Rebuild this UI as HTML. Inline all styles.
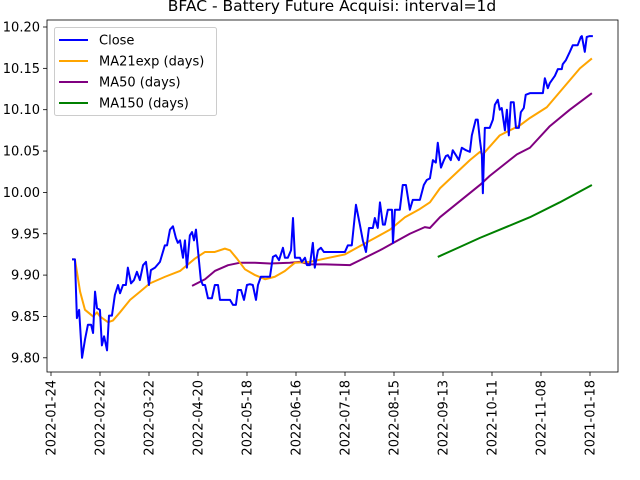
<!DOCTYPE html>
<html><head><meta charset="utf-8"><style>
body{margin:0;background:#fff;}
svg{display:block;font-family:"DejaVu Sans","Liberation Sans",sans-serif;}
</style></head><body>
<svg id="chart" width="640" height="480" viewBox="0 0 640 480"></svg>
<script>
// trading-day offsets (tick k sits at day 20k) and values
const tickLabels = ["2022-01-24","2022-02-22","2022-03-22","2022-04-20","2022-05-18","2022-06-16","2022-07-18","2022-08-15","2022-09-13","2022-10-11","2022-11-08","2021-01-18"];
const yTicks = [9.80,9.85,9.90,9.95,10.00,10.05,10.10,10.15,10.20];
const closeDays = [0,1.2,2.0,2.9,4.1,5.3,6.5,7.8,8.6,9.4,10.2,11.4,12.2,13.1,14.3,15.1,16.3,17.5,18.8,19.6,20.8,22.0,22.8,24.1,25.3,26.5,27.7,29.0,30.2,31.4,32.2,33.9,35.9,36.7,37.9,38.8,40.0,41.2,42.4,43.2,44.1,45.3,46.1,46.9,48.1,49.0,49.8,50.6,51.8,52.6,53.4,54.3,55.5,57.1,58.3,59.6,60.4,61.2,62.8,64.5,65.7,66.9,67.7,69.0,70.2,71.4,72.6,73.8,75.1,75.9,77.1,78.3,79.6,80.8,82.0,83.2,84.5,86.1,86.9,88.1,89.4,90.2,91.0,93.0,93.8,95.1,95.9,97.1,98.3,99.1,100.4,101.6,102.8,105.3,111.4,112.6,114.2,115.9,117.5,118.7,120.0,121.2,122.8,123.6,124.8,125.7,126.9,127.7,128.9,130.6,131.0,131.8,133.8,135.0,136.3,137.9,139.1,142.0,143.6,144.8,146.1,147.3,148.5,149.3,150.6,151.8,152.6,153.4,154.6,155.4,156.7,157.9,159.1,160.8,162.4,163.2,164.8,165.6,166.5,167.3,167.7,168.5,170.5,171.8,172.6,173.8,174.6,175.4,176.7,177.5,178.3,179.1,180.3,181.2,182.4,183.2,184.4,185.2,186.9,192.2,193.0,194.2,195.0,197.1,198.3,199.9,200.3,201.6,203.2,204.4,206.4,207.7,208.1,209.3,210.1,211.3,212.6];
const closeVals = [9.919,9.919,9.848,9.858,9.800,9.822,9.840,9.840,9.830,9.880,9.860,9.858,9.815,9.826,9.809,9.851,9.851,9.876,9.888,9.878,9.888,9.888,9.909,9.890,9.894,9.904,9.894,9.912,9.916,9.888,9.906,9.909,9.916,9.924,9.936,9.936,9.955,9.959,9.945,9.939,9.942,9.921,9.942,9.909,9.948,9.952,9.942,9.955,9.918,9.894,9.888,9.888,9.872,9.872,9.888,9.888,9.870,9.870,9.870,9.870,9.864,9.864,9.882,9.882,9.870,9.888,9.889,9.888,9.870,9.888,9.898,9.898,9.898,9.898,9.922,9.924,9.918,9.933,9.921,9.921,9.930,9.969,9.921,9.921,9.916,9.921,9.912,9.912,9.939,9.909,9.930,9.933,9.928,9.928,9.928,9.936,9.936,9.985,9.961,9.942,9.928,9.957,9.957,9.969,9.957,9.988,9.961,9.961,9.979,9.979,9.939,9.979,9.979,10.009,10.009,9.979,9.991,9.991,10.009,10.015,10.017,10.039,10.036,10.060,10.030,10.039,10.044,10.045,10.039,10.051,10.045,10.039,10.054,10.051,10.049,10.069,10.088,10.088,10.063,10.045,9.999,10.078,10.078,10.088,10.106,10.112,10.100,10.102,10.075,10.100,10.069,10.109,10.109,10.078,10.078,10.097,10.102,10.118,10.120,10.120,10.138,10.126,10.132,10.141,10.149,10.149,10.155,10.160,10.170,10.178,10.178,10.188,10.189,10.170,10.188,10.189,10.189];
const maExpDays = [0,1.2,3.3,5.3,8.6,10.2,11.4,14.7,16.7,19.6,23.7,27.8,31.8,38.0,44.1,50.2,54.3,58.3,62.4,64.5,67.3,70.6,74.7,78.8,82.8,86.9,91.0,97.1,103.3,111.4,117.5,123.7,129.8,135.9,142.0,146.1,150.2,162.4,166.5,167.7,174.6,182.8,186.9,193.8,207.3,212.2];
const maExpVals = [9.919,9.919,9.880,9.858,9.850,9.855,9.850,9.843,9.845,9.855,9.870,9.880,9.890,9.898,9.905,9.920,9.928,9.928,9.932,9.930,9.920,9.907,9.900,9.895,9.898,9.905,9.915,9.916,9.920,9.925,9.935,9.945,9.955,9.970,9.980,9.988,10.005,10.039,10.049,10.046,10.069,10.081,10.090,10.103,10.150,10.162];
const ma50Days = [49.0,54.3,58.3,63.7,68.6,74.7,80.8,88.9,93.0,97.1,103.3,113.4,117.5,125.7,131.8,137.9,144.0,146.1,150.2,166.5,170.5,181.6,186.9,195.0,203.2,212.2];
const ma50Vals = [9.887,9.895,9.905,9.912,9.915,9.915,9.914,9.915,9.916,9.913,9.913,9.912,9.918,9.930,9.940,9.950,9.958,9.957,9.970,10.009,10.020,10.046,10.054,10.080,10.100,10.120];
const ma150Days = [149.3,158.3,166.5,186.9,199.1,212.2];
const ma150Vals = [9.922,9.934,9.945,9.970,9.988,10.009];

const NS="http://www.w3.org/2000/svg";
const svg=document.getElementById('chart');
const L=47,R=618,T=20,B=372;
const x=d=>72+d*2.45;
const xTick=k=>51+k*49;
const y=v=>27+(10.20-v)*827;
function mk(tag,attrs,parent){const e=document.createElementNS(NS,tag);for(const k in attrs)e.setAttribute(k,attrs[k]);(parent||svg).appendChild(e);return e;}

const title=mk('text',{x:332,y:11,'text-anchor':'middle','font-size':'15.5'});
title.textContent='BFAC - Battery Future Acquisi: interval=1d';



const yAxis=mk('g',{});


yTicks.forEach(v=>{
  mk('line',{x1:L-4,x2:L,y1:y(v),y2:y(v),stroke:'#000','stroke-width':0.8},yAxis);
  const t=mk('text',{x:L-7,y:y(v)+4.5,'text-anchor':'end','font-size':'13'},yAxis);
  t.textContent=v.toFixed(2);
  
  
});
const xAxis=mk('g',{});


tickLabels.forEach((lab,k)=>{
  const px=xTick(k);
  mk('line',{x1:px,x2:px,y1:B,y2:B+4,stroke:'#000','stroke-width':0.8},xAxis);
  const t=mk('text',{x:0,y:0,'text-anchor':'end','font-size':'13',transform:`translate(${px+4.5},${B+8}) rotate(-90)`},xAxis);
  t.textContent=lab;
  
  
});

function series(days,vals,color,name){
  const p=mk('polyline',{points:days.map((d,i)=>x(d)+','+y(vals[i])).join(' '),fill:'none',stroke:color,'stroke-width':2,'stroke-linejoin':'round'});
  
  
}
series(ma150Days,ma150Vals,'green','ma150-line');
series(ma50Days,ma50Vals,'purple','ma50-line');
series(maExpDays,maExpVals,'orange','ma21exp-line');
series(closeDays,closeVals,'blue','close-line');

const frame=mk('rect',{x:L,y:T,width:R-L,height:B-T,fill:'none',stroke:'#000','stroke-width':0.8});



const legend=mk('g',{});


mk('rect',{x:54.5,y:27.5,width:162,height:88,rx:2,fill:'#fff','fill-opacity':0.8,stroke:'#ccc'},legend);
const legNames=['Close','MA21exp (days)','MA50 (days)','MA150 (days)'];
const legColors=['blue','orange','purple','green'];
legNames.forEach((n,i)=>{
  const yy=40+i*21;
  mk('line',{x1:59,x2:88,y1:yy,y2:yy,stroke:legColors[i],'stroke-width':2},legend);
  const t=mk('text',{x:99,y:yy+4.5,'font-size':'13'},legend);
  t.textContent=n;
  
  
});
</script>
</body></html>
